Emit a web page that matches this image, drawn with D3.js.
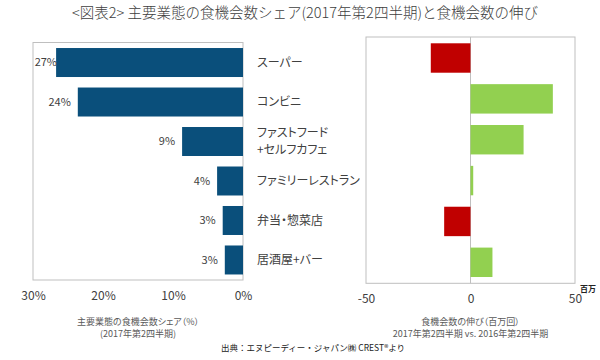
<!DOCTYPE html>
<html><head><meta charset="utf-8">
<script src="https://cdn.jsdelivr.net/npm/d3@7"></script>
<style>
body{margin:0;background:#fff;}
text{font-family:"Noto Sans CJK JP","Noto Sans",sans-serif;}
.palt{font-feature-settings:"palt";}
</style></head>
<body><svg id="c" width="600" height="360"></svg>
<script>
const categories = ["スーパー","コンビニ","ファストフード\n+セルフカフェ","ファミリーレストラン","弁当・惣菜店","居酒屋+バー"];
const shareValues = [26.7, 23.6, 8.7, 3.7, 2.9, 2.6];
const growthValues = [-19, 39.4, 25.4, 1.3, -12.6, 10.5];
const shareTicks = [30, 20, 10, 0];
const growthTicks = [-50, 0, 50];
const titleText = "<図表2> 主要業態の食機会数シェア(2017年第2四半期)と食機会数の伸び";
const leftAxisTitle = ["主要業態の食機会数シェア（%）","(2017年第2四半期)"];
const rightAxisTitle = ["食機会数の伸び（百万回）","2017年第2四半期 vs. 2016年第2四半期"];
const unitText = "百万";
const sourceText = "出典：エヌピーディー・ジャパン㈱ CREST®より";

const svg = d3.select("#c");
const gridCol = "#bfbfbf", textCol = "#404040";

svg.append("text").attr("x", 305).attr("y", 18).attr("text-anchor","middle")
  .attr("font-size", 14.5).attr("font-weight",300).attr("fill", "#404040").text(titleText);

// Left chart
const L = {l:33, r:243, t:42.5, b:280};
const xL = d3.scaleLinear().domain([30,0]).range([L.l, L.r]);
const yL = d3.scaleBand().domain(categories).range([L.t, L.b]).paddingInner(0.266).paddingOuter(0.14);
svg.append("rect").attr("x",L.l).attr("y",L.t).attr("width",L.r-L.l).attr("height",L.b-L.t)
  .attr("fill","none").attr("stroke",gridCol);
svg.append("g").selectAll("rect").data(shareValues).join("rect")
  .attr("x", d=>xL(d)).attr("y",(d,i)=>yL(categories[i]))
  .attr("width", d=>xL(0)-xL(d)).attr("height", yL.bandwidth()).attr("fill","#0a4f7b");
svg.append("g").selectAll("text").data(shareValues).join("text")
  .attr("x", d=>Math.max(xL(d)-7, L.l+24)).attr("y",(d,i)=>yL(categories[i])+yL.bandwidth()/2)
  .attr("dy","0.35em").attr("text-anchor","end").attr("font-size",11).attr("fill",textCol)
  .text(d=>Math.round(d)+"%");
const axL = svg.append("g").attr("transform",`translate(0,${L.b})`)
  .call(d3.axisBottom(xL).tickValues(shareTicks).tickSize(0).tickPadding(11).tickFormat(d=>d+"%"));
axL.select(".domain").remove();
axL.selectAll("text").attr("font-size",12).attr("fill",textCol).attr("font-family",null);
leftAxisTitle.forEach((t,i)=>svg.append("text").attr("class","palt").attr("x",(L.l+L.r)/2).attr("y",325+i*12)
  .attr("text-anchor","middle").attr("font-size",9).attr("fill","#595959").text(t));

// Category labels
const lab = svg.append("g");
categories.forEach((c,i)=>{
  const lines = c.split("\n");
  const cy = yL(c)+yL.bandwidth()/2;
  lines.forEach((ln,j)=>{
    lab.append("text").attr("class","palt").attr("x",257).attr("y", cy + (j-(lines.length-1)/2)*17)
      .attr("dy","0.35em").attr("font-size",12).attr("fill","#404040").text(ln);
  });
});

// Right chart
const R = {l:366, r:575, t:37, b:283.3};
const xR = d3.scaleLinear().domain([-50,50]).range([R.l, R.r]);
const yR = d3.scaleBand().domain(categories).range([R.t, R.b]).paddingInner(0.28).paddingOuter(0.154);
svg.append("rect").attr("x",R.l).attr("y",R.t).attr("width",R.r-R.l).attr("height",R.b-R.t)
  .attr("fill","none").attr("stroke",gridCol);
svg.append("line").attr("x1",xR(0)).attr("x2",xR(0)).attr("y1",R.t).attr("y2",R.b).attr("stroke",gridCol);
svg.append("g").selectAll("rect").data(growthValues).join("rect")
  .attr("x", d=>xR(Math.min(0,d))).attr("y",(d,i)=>yR(categories[i]))
  .attr("width", d=>Math.abs(xR(d)-xR(0))).attr("height", yR.bandwidth())
  .attr("fill", d=>d<0?"#c00000":"#92d050");
const axR = svg.append("g").attr("transform",`translate(0,${R.b})`)
  .call(d3.axisBottom(xR).tickValues(growthTicks).tickSize(0).tickPadding(11).tickFormat(d3.format("d")));
axR.select(".domain").remove();
axR.selectAll("text").attr("font-size",12).attr("fill",textCol).attr("font-family",null).text(d=>d<0?"-"+Math.abs(d):d);
svg.append("text").attr("x",588).attr("y",292).attr("text-anchor","middle").attr("font-size",8)
  .attr("font-weight","bold").attr("fill","#222").text(unitText);
rightAxisTitle.forEach((t,i)=>svg.append("text").attr("class","palt").attr("x",(R.l+R.r)/2).attr("y",325+i*12)
  .attr("text-anchor","middle").attr("font-size",9).attr("fill","#595959").text(t));

svg.append("text").attr("x",313).attr("y",351).attr("text-anchor","middle").attr("font-size",8.5)
  .attr("fill","#222").text(sourceText);
</script></body></html>
